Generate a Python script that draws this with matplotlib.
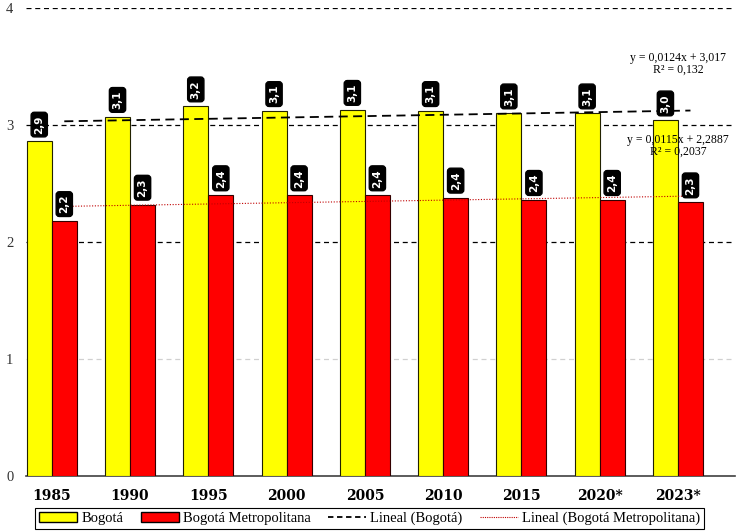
import numpy as np
import matplotlib
matplotlib.use("Agg")
import matplotlib.pyplot as plt
from matplotlib.lines import Line2D
from matplotlib.patches import Patch

# data
years = ["1985", "1990", "1995", "2000", "2005", "2010", "2015", "2020*", "2023*"]
bogota = [2.86, 3.07, 3.16, 3.12, 3.13, 3.12, 3.10, 3.10, 3.04]
metro = [2.18, 2.32, 2.40, 2.40, 2.40, 2.38, 2.36, 2.36, 2.34]
eq_bogota = "y = 0,0124x + 3,017\nR² = 0,132"
eq_metro = "y = 0,0115x + 2,2887\nR² = 0,2037"

fig = plt.figure(figsize=(7.41, 5.32), dpi=100)
ax = fig.add_axes([0.035, 0.105, 0.957, 0.88])

x = np.arange(len(years))
w = 0.32
bars_b = ax.bar(x - w / 2, bogota, w, color="#FFFF00", edgecolor="#222200", linewidth=0.8, zorder=3)
bars_m = ax.bar(x + w / 2, metro, w, color="#FF0000", edgecolor="#330000", linewidth=0.8, zorder=3)

# value labels in black rounded boxes
for bars, vals in ((bars_b, bogota), (bars_m, metro)):
    for bar, v in zip(bars, vals):
        ax.annotate(f"{v:.1f}".replace(".", ","),
                    (bar.get_x() + bar.get_width() / 2, bar.get_height()),
                    xytext=(0, 5.5), textcoords="offset points",
                    ha="center", va="bottom", rotation=90,
                    color="white", fontsize=7.5, fontweight="bold",
                    bbox=dict(boxstyle="round,pad=0.3", fc="black", ec="black"),
                    zorder=5)

# linear trends (Excel style, fitted over 1..n)
t = np.arange(1, len(years) + 1)
xt = x + 0.16
pb = np.polyfit(t, bogota, 1)
pm = np.polyfit(t, metro, 1)
ax.plot(xt, np.polyval(pb, t), color="black", linestyle=(0, (5, 3)), linewidth=1.3, zorder=4)
ax.plot(xt, np.polyval(pm, t), color="#C00000", linestyle=(0, (1, 1.5)), linewidth=0.8, zorder=4)

ax.text(8.0, 3.52, eq_bogota, ha="center", va="center", fontsize=8.5,
        family="Liberation Serif", linespacing=1.0, zorder=6)
ax.text(8.0, 2.82, eq_metro, ha="center", va="center", fontsize=8.5,
        family="Liberation Serif", linespacing=1.0, zorder=6)

# grid lines
for yv in (2, 3, 4):
    ax.axhline(yv, color="black", linestyle=(0, (4, 3)), linewidth=0.9, zorder=1)
ax.axhline(1, color="#D0D0D0", linestyle=(0, (4, 3)), linewidth=0.9, zorder=1)

ax.set_xlim(-0.33, 8.73)
ax.set_ylim(0, 4)
ax.set_yticks([0, 1, 2, 3, 4])
ax.set_xticks(x)
ax.set_xticklabels(years, fontweight="bold", fontsize=10, family="DejaVu Serif")
for lab in ax.get_yticklabels():
    lab.set_family("Liberation Serif")
    lab.set_fontsize(10.5)
    lab.set_color("#333333")
ax.tick_params(axis="x", length=0, pad=9)
ax.tick_params(axis="y", length=0, pad=9)
for s in ("top", "right", "left"):
    ax.spines[s].set_visible(False)
ax.spines["bottom"].set_color("#404040")
ax.spines["bottom"].set_linewidth(1.2)

handles = [
    Patch(facecolor="#FFFF00", edgecolor="black", label="Bogotá"),
    Patch(facecolor="#FF0000", edgecolor="black", label="Bogotá Metropolitana"),
    Line2D([], [], color="black", linestyle=(0, (3, 2)), linewidth=1.3, label="Lineal (Bogotá)"),
    Line2D([], [], color="#C00000", linestyle=(0, (1, 1)), linewidth=0.8, label="Lineal (Bogotá Metropolitana)"),
]
leg = fig.legend(handles=handles, loc="center", bbox_to_anchor=(0.499, 0.026), ncol=4,
                 frameon=True, fancybox=False, edgecolor="black", framealpha=1,
                 prop={"family": "Liberation Serif", "size": 10.5},
                 handlelength=2.6, handletextpad=0.3, columnspacing=1.2,
                 borderpad=0.25)
leg.get_frame().set_linewidth(0.8)

fig.savefig("out.png", dpi=100)
